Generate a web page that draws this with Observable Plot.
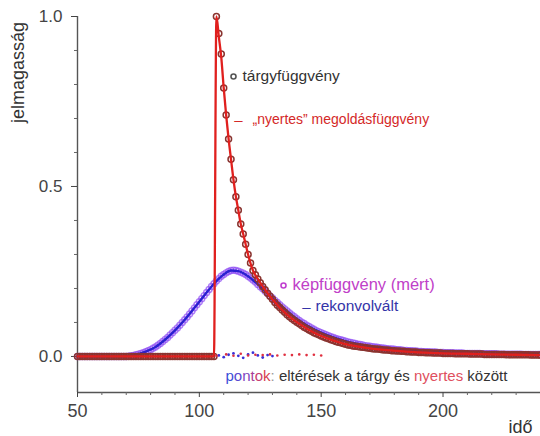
<!DOCTYPE html>
<html><head><meta charset="utf-8">
<script src="https://cdn.jsdelivr.net/npm/d3@7"></script>
<script src="https://cdn.jsdelivr.net/npm/@observablehq/plot@0.6"></script>
<style>body{margin:0;background:#fff;font-family:"Liberation Sans",Arial,sans-serif}</style>
</head><body><div id="chart"></div>
<script>
// sample times (idő) 50..240, step 1
const ido = d3.range(50, 241);

// tárgyfüggvény (target), one value per sample time
const targy = [
 0,0,0,0,0,0,0,0,0,0,            // 50-59
 0,0,0,0,0,0,0,0,0,0,            // 60-69
 0,0,0,0,0,0,0,0,0,0,            // 70-79
 0,0,0,0,0,0,0,0,0,0,            // 80-89
 0,0,0,0,0,0,0,0,0,0,            // 90-99
 0,0,0,0,0,0,0,1.00,0.95,0.89,   // 100-109
 0.79,0.71,0.64,0.58,0.52,0.47,0.43,0.39,0.36,0.33, // 110-119
 0.30,0.275,0.253,0.240,0.228,0.217,0.206,0.196,0.186,0.177, // 120-129
 0.168,0.159,0.151,0.144,0.137,0.130,0.123,0.117,0.111,0.106, // 130-139
 0.101,0.096,0.091,0.086,0.082,0.078,0.074,0.070,0.067,0.064, // 140-149
 0.060,0.057,0.054,0.052,0.049,0.047,0.044,0.042,0.040,0.038, // 150-159
 0.036,0.034,0.033,0.031,0.030,0.029,0.028,0.027,0.026,0.025, // 160-169
 0.024,0.023,0.022,0.022,0.021,0.020,0.019,0.019,0.018,0.017, // 170-179
 0.017,0.016,0.016,0.015,0.015,0.014,0.014,0.013,0.013,0.013, // 180-189
 0.012,0.012,0.012,0.011,0.011,0.011,0.010,0.010,0.010,0.010, // 190-199
 0.009,0.009,0.009,0.009,0.009,0.008,0.008,0.008,0.008,0.008, // 200-209
 0.008,0.007,0.007,0.007,0.007,0.007,0.007,0.006,0.006,0.006, // 210-219
 0.006,0.006,0.006,0.006,0.006,0.006,0.005,0.005,0.005,0.005, // 220-229
 0.005,0.005,0.005,0.005,0.005,0.005,0.004,0.004,0.004,0.004, // 230-239
 0.004                                                        // 240
];

// képfüggvény (mért), one value per sample time
const kep = [
 0,0,0,0,0,0,0,0,0,0,            // 50-59
 0,0,0,0,0,0,0,0,0,0,            // 60-69
 0,0.001,0.002,0.003,0.005,0.007,0.009,0.011,0.014,0.017, // 70-79
 0.020,0.024,0.028,0.033,0.038,0.044,0.050,0.056,0.063,0.070, // 80-89
 0.077,0.084,0.092,0.100,0.108,0.116,0.125,0.134,0.143,0.152, // 90-99
 0.161,0.170,0.179,0.188,0.197,0.206,0.214,0.222,0.229,0.236, // 100-109
 0.241,0.246,0.250,0.253,0.254,0.253,0.251,0.248,0.245,0.241, // 110-119
 0.236,0.231,0.225,0.219,0.212,0.205,0.199,0.192,0.185,0.178, // 120-129
 0.172,0.165,0.159,0.152,0.146,0.140,0.134,0.128,0.122,0.117, // 130-139
 0.111,0.106,0.101,0.097,0.092,0.088,0.084,0.080,0.076,0.073, // 140-149
 0.070,0.067,0.064,0.061,0.058,0.056,0.053,0.051,0.049,0.047, // 150-159
 0.045,0.043,0.041,0.040,0.038,0.036,0.035,0.034,0.032,0.031, // 160-169
 0.030,0.029,0.028,0.027,0.026,0.025,0.024,0.023,0.022,0.022, // 170-179
 0.021,0.020,0.020,0.019,0.018,0.018,0.017,0.017,0.016,0.016, // 180-189
 0.015,0.015,0.014,0.014,0.014,0.013,0.013,0.013,0.012,0.012, // 190-199
 0.012,0.011,0.011,0.011,0.011,0.010,0.010,0.010,0.010,0.009, // 200-209
 0.009,0.009,0.009,0.009,0.009,0.009,0.008,0.008,0.008,0.008, // 210-219
 0.008,0.008,0.008,0.007,0.007,0.007,0.007,0.007,0.007,0.007, // 220-229
 0.007,0.007,0.007,0.006,0.006,0.006,0.006,0.006,0.006,0.006, // 230-239
 0.006                                                        // 240
];

// „nyertes” megoldásfüggvény (winning solution)
const nyertesIdo = [50,106,107,108,109,110,111,112,113,114,115,116,117,118,119,120,122,124,126,128,130,133,136,140,145,150,155,160,170,180,190,200,210,220,230,240];
const nyertes    = [0,0,1.00,0.94,0.88,0.79,0.71,0.64,0.58,0.52,0.47,0.43,0.39,0.36,0.33,0.30,0.253,0.228,0.206,0.186,0.168,0.144,0.123,0.101,0.078,0.060,0.047,0.036,0.024,0.017,0.012,0.009,0.008,0.006,0.005,0.004];

// rekonvolvált
const rekIdo = [50,70,74,78,82,86,90,94,98,102,106,110,113,116,120,124,128,132,136,140,145,150,160,170,180,200,220,240];
const rek    = [0,0,0.005,0.014,0.028,0.050,0.077,0.108,0.143,0.179,0.214,0.241,0.253,0.251,0.236,0.212,0.185,0.159,0.134,0.111,0.088,0.070,0.045,0.030,0.021,0.012,0.008,0.006];

// eltérések (residual points)
const resKekIdo = [108,110,112,114,116,118,120,122,124,126,128,130];
const resKek    = [0.003,-0.002,0.005,0.009,0.002,-0.004,0.006,0.011,0.003,-0.003,0.004,0.001];
const resPirosIdo = [107,111,114,117,120,123,126,129,132,135,138,141,144,147,150];
const resPiros    = [0.002,0.006,0.002,0.008,0.003,0.005,0.004,0.006,0.003,0.005,0.004,0.006,0.004,0.005,0.003];

// ticks
const xTicks = [50,100,150,200];
const xMinor = [60,70,80,90,110,120,130,140,160,170,180,190,210,220,230,240];
const yTicks = [0,0.5,1.0];
const yMinor = [0.1,0.2,0.3,0.4,0.6,0.7,0.8,0.9];

const targyData = ido.map((x,i)=>({x, y: targy[i]}));
const kepData = ido.map((x,i)=>({x, y: kep[i]}));
const nyData = nyertesIdo.map((x,i)=>({x, y: nyertes[i]}));
const rekData = rekIdo.map((x,i)=>({x, y: rek[i]}));
const kekData = resKekIdo.map((x,i)=>({x, y: resKek[i]}));
const pirData = resPirosIdo.map((x,i)=>({x, y: resPiros[i]}));

const yMin = -0.106, yMax = 1.0;
const PONTOK = "pontok: eltérések a tárgy és nyertes között";

const chart = Plot.plot({
  width: 540, height: 436,
  marginLeft: 77, marginRight: 0, marginTop: 16, marginBottom: 44,
  x: {domain: [50, 240], label: null},
  y: {domain: [yMin, yMax], label: null},
  style: {fontFamily: "'Liberation Sans', Arial, sans-serif", background: "white"},
  marks: [
    // axis lines
    Plot.ruleX([50], {y1: yMin, y2: yMax, stroke: "#555", strokeWidth: 1.4}),
    Plot.ruleY([yMin], {stroke: "#555", strokeWidth: 1.4}),
    Plot.axisY(yTicks, {tickSize: 6, tickPadding: 9, tickFormat: d3.format(".1f"), fontSize: 17, color: "#444", label: null}),
    Plot.axisY(yMinor, {tickSize: 3, tickFormat: () => "", color: "#666", label: null}),
    Plot.axisX(xTicks, {y: yMin, tickSize: 5, tickPadding: 7, tickFormat: d => String(d), fontSize: 18, color: "#444", label: null}),
    Plot.axisX(xMinor, {tickSize: 3, tickFormat: () => "", color: "#666", label: null}),
    // measured image function (circles) + reconvolved (line)
    Plot.dot(kepData, {x: "x", y: "y", r: 3, stroke: "#8e4cf4", strokeWidth: 1.4, strokeOpacity: 0.7, fill: "none"}),
    Plot.line(rekData, {x: "x", y: "y", stroke: "#2a1fd0", strokeWidth: 2.4, curve: "monotone-x"}),
    // target (circles) + winning solution (line)
    Plot.dot(targyData, {x: "x", y: "y", r: 3, stroke: "#8a3430", strokeWidth: 1.5, fill: "none"}),
    Plot.line(nyData, {x: "x", y: "y", stroke: "#e0201e", strokeWidth: 2.3, curve: "monotone-x"}),
    // residuals
    Plot.dot(kekData, {x: "x", y: "y", r: 1.4, fill: "#3a30d8"}),
    Plot.dot(pirData, {x: "x", y: "y", r: 1.3, fill: "#e03040"}),
    // legend / annotations
    Plot.dot([0], {frameAnchor: "top-left", dx: 156, dy: 60, r: 2.5, stroke: "#555", strokeWidth: 1.6, fill: "none"}),
    Plot.text(["tárgyfüggvény"], {frameAnchor: "top-left", dx: 165, dy: 60, textAnchor: "start", lineAnchor: "middle", fontSize: 15.5, fill: "#333"}),
    Plot.text(["–"], {frameAnchor: "top-left", dx: 161, dy: 104, textAnchor: "middle", lineAnchor: "middle", fontSize: 15, fill: "#d42828"}),
    Plot.text(["„nyertes” megoldásfüggvény"], {frameAnchor: "top-left", dx: 175, dy: 103, textAnchor: "start", lineAnchor: "middle", fontSize: 14, fill: "#d42828"}),
    Plot.dot([0], {frameAnchor: "top-left", dx: 206, dy: 269, r: 2.5, stroke: "#c040d0", strokeWidth: 1.6, fill: "none"}),
    Plot.text(["képfüggvény (mért)"], {frameAnchor: "top-left", dx: 215, dy: 268, textAnchor: "start", lineAnchor: "middle", fontSize: 16.5, fill: "#c040c8"}),
    Plot.text(["–"], {frameAnchor: "top-left", dx: 229, dy: 291, textAnchor: "middle", lineAnchor: "middle", fontSize: 15, fill: "#3434a8"}),
    Plot.text(["rekonvolvált"], {frameAnchor: "top-left", dx: 238, dy: 290, textAnchor: "start", lineAnchor: "middle", fontSize: 15.5, fill: "#3434a8"}),
    Plot.text([PONTOK], {frameAnchor: "top-left", dx: 148, dy: 360, textAnchor: "start", lineAnchor: "middle", fontSize: 15, fill: "#333"}),
    Plot.text(["jelmagasság"], {frameAnchor: "top-left", dx: -59, dy: 56, rotate: -90, textAnchor: "middle", lineAnchor: "middle", fontSize: 18, fill: "#333"}),
    Plot.text(["idő"], {frameAnchor: "top-left", dx: 443, dy: 411, textAnchor: "middle", lineAnchor: "middle", fontSize: 18, fill: "#333"})
  ]
});
document.getElementById("chart").appendChild(chart);

// colour the parts of the residual caption
d3.select(chart).selectAll("text").filter(function(){ return this.textContent === PONTOK; }).each(function(){
  const t = d3.select(this);
  t.text(null);
  const parts = [["p","#3b4fd8"],["o","#5a48d0"],["n","#8045c0"],["t","#a84098"],["o","#c83c70"],["k","#d83c50"],[":","#999"],
                 [" eltérések a tárgy és ","#333"],["nyertes","#e05060"],[" között","#333"]];
  for (const [s,c] of parts) t.append("tspan").attr("fill", c).text(s);
  t.attr("xml:space","preserve").style("white-space","pre");
});
</script></body></html>
